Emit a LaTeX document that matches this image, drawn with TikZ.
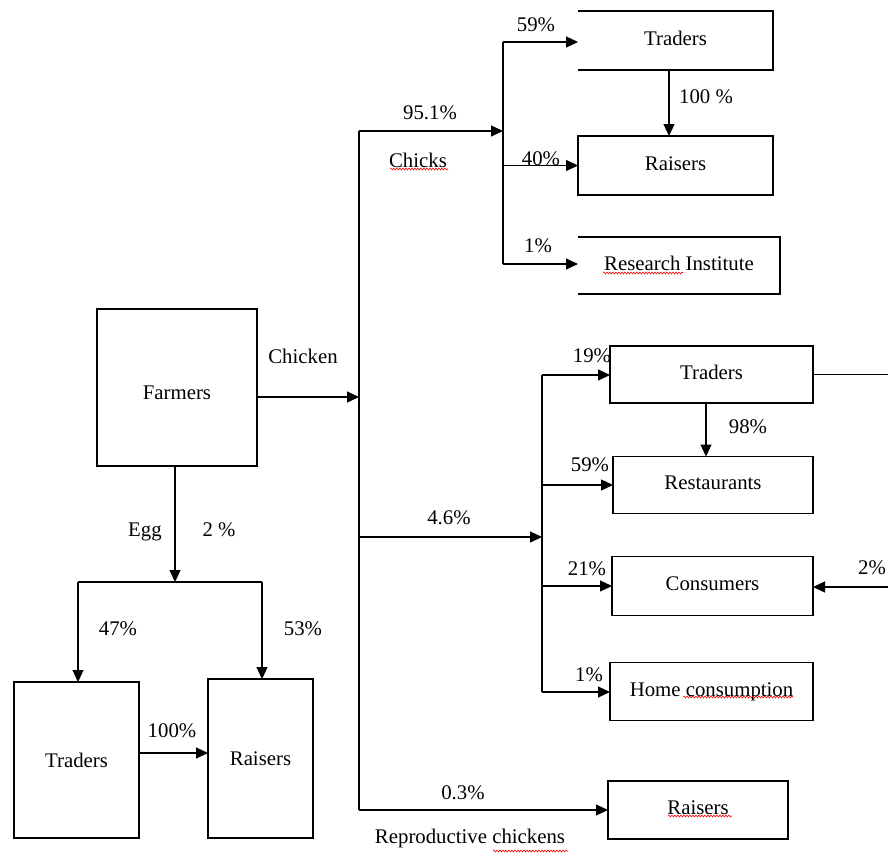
\documentclass[tikz,border=0pt]{standalone}
\usepackage{fontspec}
\setmainfont{Liberation Serif}
\usetikzlibrary{arrows.meta,decorations.pathmorphing}
\begin{document}
\begin{tikzpicture}[x=1pt,y=-1pt,
  every node/.style={font=\fontsize{20.8}{24}\selectfont, inner sep=0pt, outer sep=0pt},
  box/.style={draw, line width=1.1pt},
  raised/.style={text height=15pt, text depth=6pt},
  openbox/.style={},
  ln/.style={line width=1.2pt},
  flow/.style={line width=1.2pt, -{Triangle[length=12pt,width=11pt]}},
  spell/.style={red, line width=0.6pt, decorate, decoration={snake, segment length=3pt, amplitude=0.9pt}}]
\useasboundingbox (0,0) rectangle (888,854);
% boxes
\node[box, text height=24pt, text depth=0pt, minimum width=160pt, minimum height=157pt] (farmers) at (177,387.5) {Farmers};
\node[box, minimum width=125pt, minimum height=156pt] (te) at (76.5,760) {Traders};
\node[box, minimum width=105pt, minimum height=159pt] (re) at (260.5,758.5) {Raisers};
\node[openbox, raised, minimum width=195pt, minimum height=59pt] (tc) at (675.5,40.5) {Traders};
\node[box, raised, minimum width=195pt, minimum height=59pt] (rc) at (675.5,165.5) {Raisers};
\node[openbox, raised, minimum width=202pt, minimum height=57pt] (ri) at (679,265.5) {Research Institute};
\node[box, raised, minimum width=203pt, minimum height=57pt] (tm) at (711.5,374.5) {Traders};
\node[box, raised, minimum width=200pt, minimum height=57pt] (rs) at (713,485) {Restaurants};
\node[box, raised, minimum width=201pt, minimum height=59pt] (cs) at (712.5,586) {Consumers};
\node[box, raised, minimum width=203pt, minimum height=58pt] (hc) at (711.5,691.5) {Home consumption};
\node[box, raised, minimum width=180pt, minimum height=58pt] (rr) at (698,810) {Raisers};
% open-left boxes
\draw[ln] (tc.north west) -- (tc.north east) -- (tc.south east) -- (tc.south west);
\draw[ln] (ri.north west) -- (ri.north east) -- (ri.south east) -- (ri.south west);
% junction coordinates
\coordinate (trunkTop) at (359,131);
\coordinate (trunkBot) at (359,810);
\coordinate (jChicken) at (359,397);
\coordinate (jMid) at (359,537);
\coordinate (cTop) at (503,42);
\coordinate (cIn) at (503,131);
\coordinate (cBot) at (503,264);
\coordinate (mTop) at (542,375);
\coordinate (mIn) at (542,537);
\coordinate (mBot) at (542,692);
\coordinate (rEdge1) at (892,375);
\coordinate (rEdge2) at (892,587);
\coordinate (eggJ) at (175,582);
\coordinate (eggL) at (78,582);
\coordinate (eggR) at (262,582);
% trunk
\draw[ln] (trunkTop) -- (trunkBot);
\draw[flow] (farmers.east |- jChicken) -- (jChicken);
% chicks branch
\draw[flow] (trunkTop) -- (cIn);
\draw[ln] (cTop) -- (cBot);
\draw[flow] (cTop) -- (tc.west |- cTop);
\draw[flow] (cTop |- rc.west) -- (rc.west);
\draw[flow] (cBot) -- (ri.west |- cBot);
\draw[flow] ([xshift=-6.5pt]tc.south) -- ([xshift=-6.5pt]tc.south |- rc.north);
% 4.6% branch
\draw[flow] (jMid) -- (mIn);
\draw[ln] (mTop) -- (mBot);
\draw[flow] (mTop) -- (tm.west |- mTop);
\draw[flow] (mTop |- rs.west) -- (rs.west);
\draw[flow] (mTop |- cs.west) -- (cs.west);
\draw[flow] (mBot) -- (hc.west |- mBot);
\draw[flow] ([xshift=-5.5pt]tm.south) -- ([xshift=-5.5pt]tm.south |- rs.north);
\draw[ln] (tm.east) -- (tm.east -| rEdge1);
\draw[flow] (rEdge2) -- (cs.east |- rEdge2);
% reproductive
\draw[flow] (trunkBot) -- (rr.west |- trunkBot);
% egg branch
\draw[flow] (farmers.south -| eggJ) -- (eggJ);
\draw[ln] (eggL) -- (eggR);
\draw[flow] (eggL) -- (eggL |- te.north);
\draw[flow] (eggR) -- (eggR |- re.north);
\draw[flow] ([yshift=7pt]te.east) -- ([yshift=7pt]te.east -| re.west);
% labels
\node (l59a) at (536,25) {59\%};
\node (l100a) at (706,97) {100 \%};
\node (l40) at (541,159) {40\%};
\node (l1a) at (538,246) {1\%};
\node (l951) at (430,113) {95.1\%};
\node (lchicks) at (418,160) {Chicks};
\node (lchicken) at (303,356) {Chicken};
\node (legg) at (145,532) {Egg};
\node (l2a) at (219,530) {2 \%};
\node (l47) at (118,629) {47\%};
\node (l53) at (303,629) {53\%};
\node (l100b) at (172,731) {100\%};
\node (l46) at (449,518) {4.6\%};
\node (l19) at (592,356) {19\%};
\node (l59b) at (590,465) {59\%};
\node (l21) at (587,569) {21\%};
\node (l1b) at (589,675) {1\%};
\node (l98) at (748,427) {98\%};
\node (l2b) at (872,568) {2\%};
\node (l03) at (463,793) {0.3\%};
\node (lrepro) at (470,838) {Reproductive chickens};
% spell-check underlines
\draw[spell] (390,169) -- (448,169);
\draw[spell] (603,273) -- (683,273);
\draw[spell] (683,697) -- (793,697);
\draw[spell] (668,816) -- (732,816);
\draw[spell] (493,851) -- (568,851);
\end{tikzpicture}
\end{document}
